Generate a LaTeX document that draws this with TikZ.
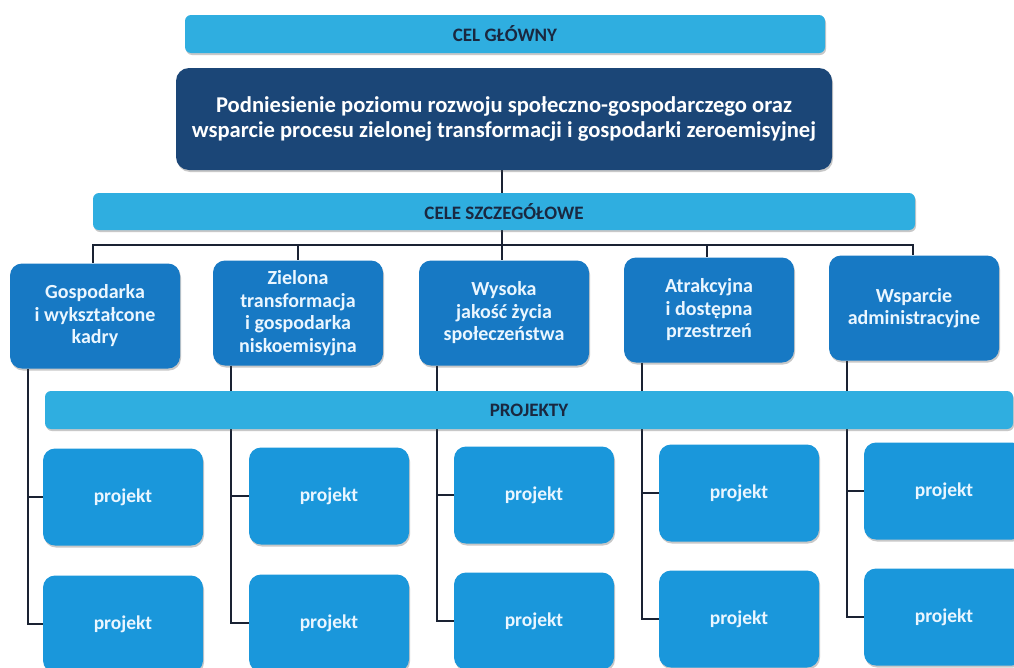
\documentclass[tikz,border=0pt]{standalone}
\usepackage{fontspec}
\setmainfont{Carlito}
\usetikzlibrary{shadows,backgrounds,calc}
\pgfdeclarelayer{bottom}
\pgfsetlayers{bottom,background,main}
\definecolor{barblue}{HTML}{2FAEE0}
\definecolor{navy}{HTML}{1B4677}
\definecolor{midblue}{HTML}{1779C4}
\definecolor{projblue}{HTML}{1A97DB}
\definecolor{linecol}{HTML}{1A2233}
\definecolor{bartext}{HTML}{1A2840}
\definecolor{boxtext}{HTML}{EAF6FF}
\tikzset{
  shad/.style={drop shadow={shadow xshift=1pt, shadow yshift=-2pt, opacity=0.3, fill=black!70}},
  barbox/.style={shad, fill=barblue, rounded corners=6pt, inner sep=0pt, text=bartext,
    font=\fontsize{19}{22}\selectfont\bfseries},
  mainbox/.style={shad, fill=navy, rounded corners=13pt, inner sep=0pt, text=white, align=center,
    minimum width=656pt, minimum height=102pt, font=\fontsize{22.6}{24.5}\selectfont\bfseries},
  goalbox/.style={shad, fill=midblue, rounded corners=12pt, inner sep=0pt, text=boxtext, align=center,
    minimum width=170pt, minimum height=105pt, font=\fontsize{20}{22.5}\selectfont\bfseries},
  projbox/.style={shad, fill=projblue, rounded corners=12pt, inner sep=0pt, text=boxtext,
    minimum width=160pt, minimum height=97pt, font=\fontsize{19.5}{22}\selectfont\bfseries},
  conn/.style={draw=linecol, line width=1.8pt}
}
\begin{document}
\begin{tikzpicture}[x=1pt,y=-1pt]
\clip (0,0) rectangle (1014,667);
\begin{pgfonlayer}{bottom}
\fill[white] (0,0) rectangle (1014,667);
\end{pgfonlayer}
% bars
\node[barbox, minimum width=640pt, minimum height=38pt] (cel) at (505,34) {CEL GŁÓWNY};
\node[mainbox] (main) at (504,119) {Podniesienie poziomu rozwoju społeczno-gospodarczego oraz\\wsparcie procesu zielonej transformacji i gospodarki zeroemisyjnej};
\node[barbox, minimum width=822pt, minimum height=37pt] (cele) at (504,211.5) {CELE SZCZEGÓŁOWE};
% goals
\node[goalbox] (b1) at (95,316) {Gospodarka\\i wykształcone\\kadry};
\node[goalbox] (b2) at (298,313) {Zielona\\transformacja\\i gospodarka\\niskoemisyjna};
\node[goalbox] (b3) at (504,313) {Wysoka\\jakość życia\\społeczeństwa};
\node[goalbox] (b4) at (709,310) {Atrakcyjna\\i dostępna\\przestrzeń};
\node[goalbox] (b5) at (914,308) {Wsparcie\\administracyjne};
% projects bar
\node[barbox, minimum width=968pt, minimum height=38pt] (proj) at (529,410) {PROJEKTY};
% projects
\node[projbox] (p11) at (123,497) {projekt};
\node[projbox] (p21) at (329,496) {projekt};
\node[projbox] (p31) at (534,495) {projekt};
\node[projbox] (p41) at (739,493) {projekt};
\node[projbox] (p51) at (944,491) {projekt};
\node[projbox] (p12) at (123,624) {projekt};
\node[projbox] (p22) at (329,623) {projekt};
\node[projbox] (p32) at (534,621) {projekt};
\node[projbox] (p42) at (739,619) {projekt};
\node[projbox] (p52) at (944,617) {projekt};
\coordinate (hub) at (502,245);
\begin{pgfonlayer}{background}
  \draw[conn] (main.south -| hub) -- (hub);
  \draw[conn] (hub) -| ($(b1.north)+(-2,0)$);
  \draw[conn] (hub) -| (b2.north);
  \draw[conn] (hub) -- (b3.north -| hub);
  \draw[conn] (hub) -| ($(b4.north)+(-2,0)$);
  \draw[conn] (hub) -| ($(b5.north)+(-1,0)$);
  \foreach \c in {1,...,5}{
    \draw[conn] ($(b\c.south west)+(18,0)$) |- (p\c1.west);
    \draw[conn] ($(b\c.south west)+(18,0)$) |- (p\c2.west);
  }
\end{pgfonlayer}
\end{tikzpicture}
\end{document}
